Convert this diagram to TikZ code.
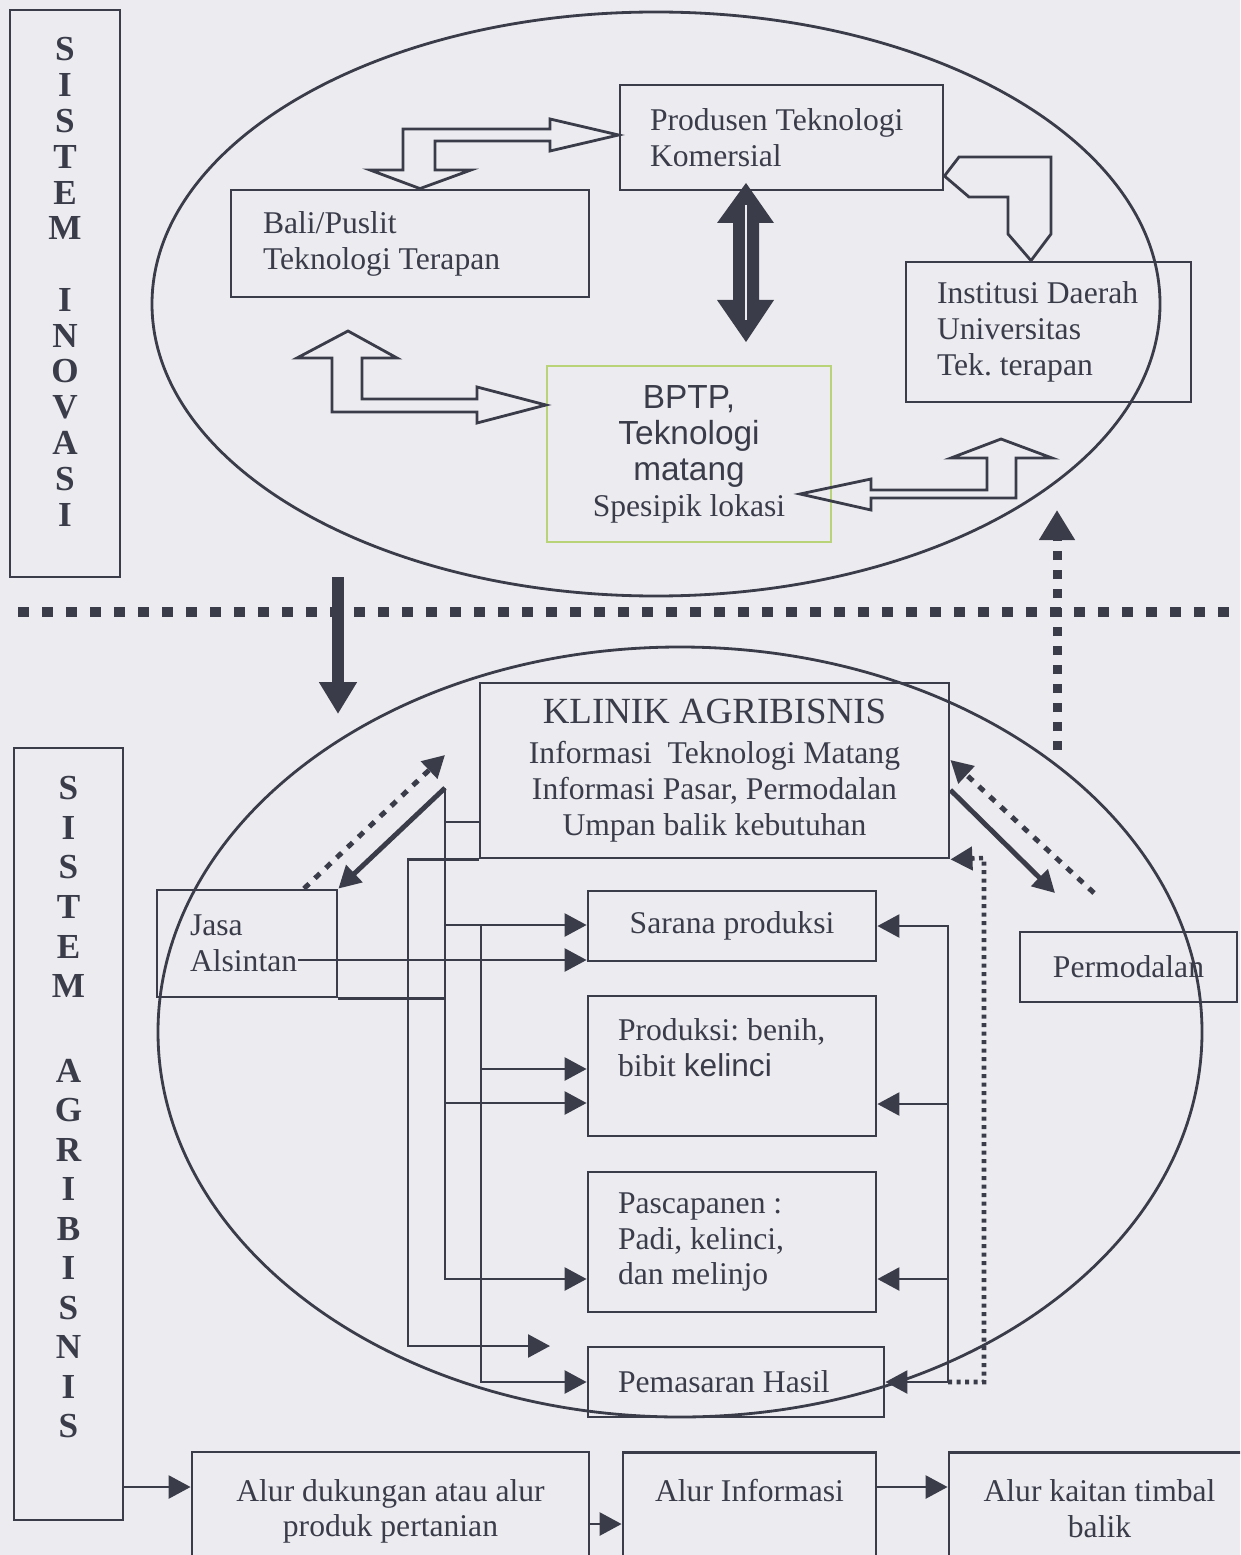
\documentclass[tikz,border=0pt]{standalone}
\usepackage{fontspec}
\setmainfont{Liberation Serif}
\setsansfont{Liberation Sans}
\usepackage{tikz}
\usetikzlibrary{arrows.meta}
\usepackage{xcolor}
\definecolor{ink}{RGB}{58,60,74}
\definecolor{paper}{RGB}{236,236,240}
\definecolor{bptpgreen}{RGB}{185,212,120}
\frenchspacing

\tikzset{
  box/.style={draw=ink, line width=0.8pt, inner sep=0pt, text=ink, font=\fontsize{9}{10.24}\selectfont},
  lbox/.style={box, align=flush left},
  cbox/.style={box, align=center},
  letters/.style={inner sep=0pt, text=ink, align=center, anchor=north},
  wire/.style={draw=ink, line width=0.75pt},
  headed/.style={-{Triangle[length=2.2mm,width=2.3mm]}},
  hollow/.style={draw=ink, line width=0.8pt, line join=miter},
  fatdots/.style={draw=ink, line width=0.5mm, dash pattern=on 0.7mm off 0.8mm},
  smalldots/.style={draw=ink, line width=1.3pt, dash pattern=on 0.4mm off 0.45mm}
}

\begin{document}
\begin{tikzpicture}[x=0.1mm,y=-0.1mm]
\useasboundingbox (0,0) rectangle (1240,1555);
\clip (0,0) rectangle (1240,1555);
\fill[paper] (0,0) rectangle (1240,1555);

% sistem inovasi
\node[box, minimum width=11mm, minimum height=56.7mm] (inovasi) at (65,293.5) {};
\node[letters, font=\bfseries\fontsize{10}{10.18}\selectfont] (inovasiText) at (65,37)
  {S\\I\\S\\T\\E\\M\\[3.58mm]I\\N\\O\\V\\A\\S\\I};
\draw[ink, line width=0.8pt] (656,304) ellipse [x radius=504, y radius=292];

\node[lbox, minimum width=32.3mm, minimum height=10.5mm, text width=26.3mm] (produsen) at (781.5,137.5)
  {Produsen Teknologi\\Komersial};
\node[lbox, minimum width=35.8mm, minimum height=10.7mm, text width=29.4mm] (bali) at (410,243.5)
  {Bali/Puslit\\Teknologi Terapan};
\node[lbox, minimum width=28.5mm, minimum height=14mm, text width=22.3mm] (institusi) at (1048.5,332)
  {Institusi Daerah\\Universitas\\Tek. terapan};
\node[cbox, draw=bptpgreen, line width=0.6pt, minimum width=28.4mm, minimum height=17.6mm] (bptp) at (689,454)
  {{\sffamily\fontsize{9.5}{10.24}\selectfont BPTP,}\\{\sffamily\fontsize{9.5}{10.24}\selectfont Teknologi}\\{\sffamily\fontsize{9.5}{10.24}\selectfont matang}\\Spesipik lokasi};

% block arrows
\draw[hollow] (bali.north -| 420,0) -- (370,170) -- (403,170) -- (403,129) -- (550,129) -- (550,119)
  -- (produsen.west |- 0,135) -- (550,151) -- (550,141) -- (435,141) -- (435,170) -- (471,170) -- cycle;
\draw[hollow] (348,331) -- (397,358) -- (362,358) -- (362,399) -- (477,399) -- (477,387)
  -- (bptp.west |- 0,405) -- (477,423) -- (477,412) -- (332,412) -- (332,358) -- (297,358) -- cycle;
\draw[hollow] (produsen.east |- 0,176) -- (959,157) -- (1051,157) -- (1051,234)
  -- (institusi.north -| 1031,0) -- (1008,234) -- (1008,197) -- (969,197) -- cycle;
\draw[hollow] (1001,439) -- (1052,458) -- (1016,458) -- (1016,498) -- (871,498) -- (871,510)
  -- (800,494) -- (871,479) -- (871,490) -- (987,490) -- (987,458) -- (951,458) -- cycle;
\fill[ink] (746,183) -- (774,223) -- (759,223) -- (759,300) -- (774,300) -- (746,342)
  -- (717,300) -- (733,300) -- (733,223) -- (717,223) -- cycle;
\draw[paper, line width=0.6pt] (746,205) -- (746,320);

% between the two systems
\coordinate (downTop) at (338,577);
\coordinate (downTip) at (338,714);
\draw[ink, line width=1.2mm, -{Triangle[length=3.2mm,width=3.6mm]}] (downTop) -- (downTip);
\draw[ink, line width=0.95mm, dash pattern=on 1.1mm off 1.3mm] (18,612) -- (1237,612);
\coordinate (upFoot) at (1057,750);
\coordinate (upTip) at (1057,510);
\draw[ink, line width=0.9mm, dash pattern=on 0.9mm off 1mm, -{Triangle[length=3mm,width=3.4mm]}] (upFoot) -- (upTip);

% sistem agribisnis
\node[box, minimum width=10.9mm, minimum height=77.2mm] (agri) at (68.5,1134) {};
\node[letters, font=\bfseries\fontsize{10}{11.24}\selectfont] (agriText) at (68.5,776)
  {S\\I\\S\\T\\E\\M\\[4.5mm]A\\G\\R\\I\\B\\I\\S\\N\\I\\S};
\draw[ink, line width=0.8pt] (680,1032) ellipse [x radius=522, y radius=385];

\node[cbox, minimum width=46.9mm, minimum height=17.5mm] (klinik) at (714.5,770.5)
  {{\fontsize{10.5}{12}\selectfont KLINIK AGRIBISNIS}\\[0.4mm]Informasi\ \ Teknologi Matang\\Informasi Pasar, Permodalan\\Umpan balik kebutuhan};
\node[lbox, minimum width=18mm, minimum height=10.7mm, text width=11.4mm] (jasa) at (247,943.5) {Jasa\\Alsintan};
\node[cbox, minimum width=28.8mm, minimum height=7mm] (sarana) at (732,926) {Sarana produksi};
\node[lbox, minimum width=28.8mm, minimum height=14mm, text width=22.8mm] (produksi) at (732,1066)
  {Produksi: benih,\\bibit {\sffamily kelinci}\\\mbox{}};
\node[lbox, minimum width=28.8mm, minimum height=14mm, text width=22.8mm] (pasca) at (732,1242)
  {Pascapanen :\\Padi, kelinci,\\dan melinjo};
\node[lbox, minimum width=29.6mm, minimum height=7mm, text width=23.6mm] (pemasaran) at (736,1382) {Pemasaran Hasil};
\node[cbox, minimum width=21.7mm, minimum height=7mm] (permodalan) at (1128.5,967) {Permodalan};

\node[cbox, minimum width=39.7mm, minimum height=14.8mm] (alurDukung) at (390.5,1526)
  {Alur dukungan atau alur\\produk pertanian\\\mbox{}};
\node[cbox, minimum width=25.3mm, minimum height=14.8mm] (alurInfo) at (749.5,1526.5)
  {Alur Informasi\\\mbox{}\\\mbox{}};
\node[cbox, minimum width=30.1mm, minimum height=14.8mm] (alurKait) at (1099.5,1526.5)
  {Alur kaitan timbal\\balik\\\mbox{}};

% klinik <-> jasa
\coordinate (bTop) at (445,788);
\draw[fatdots, headed] (jasa.north -| 304,0) -- (445,755);
\draw[wire, line width=1.4pt, headed] (bTop) -- (jasa.north east);
\draw[wire] (jasa.south east) -- (jasa.south east -| bTop);

% left lines
\draw[wire, headed] (klinik.south west) -| (408,1346) -- (550,1346);
\draw[wire, headed] (bTop) |- (pasca.west |- 0,1279);
\draw[wire] (bTop |- 0,822) -- (klinik.west |- 0,822);
\draw[wire, headed] (bTop |- 0,925) -- (sarana.west |- 0,925);
\draw[wire, headed] (bTop |- 0,1103) -- (produksi.west |- 0,1103);
\coordinate (cTop) at (481,925);
\draw[wire, headed] (cTop) |- (pemasaran.west |- 0,1382);
\draw[wire, headed] (cTop |- 0,1069) -- (produksi.west |- 0,1069);
\draw[wire, headed] (298,960) -- (sarana.south west |- 0,960);

% right lines
\coordinate (dBot) at (948,1382);
\draw[wire, headed] (dBot) |- (sarana.east);
\draw[wire, headed] (dBot |- 0,1104) -- (produksi.east |- 0,1104);
\draw[wire, headed] (dBot |- 0,1279) -- (pasca.east |- 0,1279);
\draw[wire, headed] (dBot) -- (pemasaran.east |- dBot);
\draw[smalldots, headed] (dBot) -| (984,858) -- (klinik.south east);

% klinik <-> permodalan
\draw[wire, line width=1.4pt, headed] (klinik.east |- 0,790) -- (1055,893);
\draw[fatdots, headed] (1094,893) -- (klinik.east |- 0,760);

% legend
\draw[wire, headed] (agri.east |- 0,1487) -- (alurDukung.west |- 0,1487);
\draw[wire, headed] (alurDukung.east |- 0,1524) -- (alurInfo.west |- 0,1524);
\draw[wire, headed] (alurInfo.east |- 0,1487) -- (alurKait.west |- 0,1487);
\end{tikzpicture}
\end{document}
